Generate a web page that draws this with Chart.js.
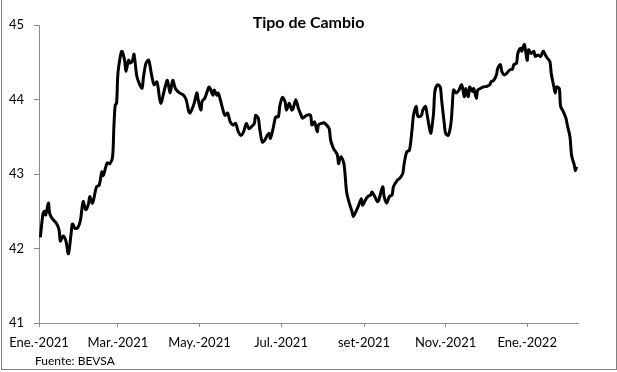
<!DOCTYPE html>
<html>
<head>
<meta charset="utf-8">
<title>Tipo de Cambio</title>
<script src="https://cdn.jsdelivr.net/npm/chart.js@4.4.1/dist/chart.umd.min.js"></script>
<style>
    html, body { margin: 0; padding: 0; background: #fff; }
    #wrap { position: relative; width: 617px; height: 372px; }
    #marco { position: absolute; left: 1px; top: 0; width: 614px; height: 369px; border: 1px solid #7f7f7f; border-top: none; pointer-events: none; }
    #fuente { position: absolute; left: 35px; top: 354px; font: 12px Lato, sans-serif; line-height: 14px; color: #000; }
</style>
</head>
<body>
<div id="wrap">
    <canvas id="grafico" width="617" height="372"></canvas>
    <div id="fuente">Fuente: BEVSA</div>
    <div id="marco"></div>
</div>
<script>
// ============ DATOS ============
// dias desde el 1 de enero de 2021
const dias = [1,3,4,5,7,8,10,13,15,16,18,20,22,24,25,27,29,31,33,35,37,38,40,43,45,47,48,51,53,55,
    56,57,58,59,61,62,64,65,67,68,70,71,73,74,77,78,80,82,84,86,88,89,91,94,96,98,100,102,105,108,
    110,112,113,116,118,119,121,122,124,127,128,130,131,133,134,136,137,139,141,143,145,147,149,151,153,155,157,159,161,162,
    164,165,167,169,170,172,173,175,177,179,180,182,184,185,187,189,190,192,194,196,197,200,203,204,206,208,209,211,213,215,
    217,218,220,221,223,224,225,226,228,229,230,232,234,235,237,239,241,242,244,246,248,249,251,253,254,257,258,260,262,264,
    265,268,270,272,273,275,277,279,280,282,283,284,286,287,289,290,292,293,295,296,298,300,301,303,304,306,308,309,310,312,
    314,316,318,319,321,322,324,325,327,328,330,332,335,337,338,340,342,343,345,346,348,350,352,354,355,357,358,360,361,362,
    363,365,366,368,370,371,373,375,377,378,380,382,383,385,386,387,389,390,392,394,395,397,398,399,400,401,402];

// tipo de cambio (pesos por dólar)
const valores = [42.15,42.47,42.50,42.45,42.61,42.47,42.40,42.34,42.25,42.10,42.17,42.11,41.93,42.20,42.33,42.27,42.28,42.38,42.63,42.52,42.60,42.70,42.61,42.83,42.85,43.03,42.98,43.15,43.14,43.23,
    43.64,43.93,43.95,44.35,44.60,44.65,44.53,44.38,44.53,44.49,44.53,44.61,44.33,44.26,44.15,44.29,44.49,44.53,44.35,44.20,44.24,44.17,43.95,44.15,44.26,44.09,44.26,44.15,44.09,44.06,
    44.00,43.84,43.82,43.95,44.09,44.00,43.86,43.98,44.02,44.17,44.15,44.06,44.13,44.06,44.09,43.97,43.90,43.79,43.82,43.70,43.66,43.68,43.57,43.52,43.57,43.68,43.61,43.64,43.68,43.79,
    43.75,43.61,43.43,43.46,43.50,43.55,43.48,43.61,43.77,43.77,43.91,44.03,43.97,43.86,43.95,43.86,43.88,44.00,43.88,43.79,43.75,43.79,43.79,43.66,43.70,43.57,43.66,43.68,43.69,43.66,
    43.61,43.46,43.35,43.32,43.26,43.14,43.21,43.23,43.14,42.96,42.76,42.61,42.50,42.43,42.50,42.58,42.67,42.58,42.65,42.70,42.72,42.76,42.70,42.63,42.65,42.83,42.70,42.61,42.70,42.72,
    42.83,42.92,42.95,43.01,43.14,43.30,43.32,43.61,43.79,43.91,43.79,43.77,43.79,43.86,43.91,43.82,43.61,43.55,43.82,44.11,44.20,44.17,44.00,43.68,43.55,43.52,43.68,43.91,44.13,44.09,
    44.13,44.20,44.04,44.15,44.04,44.17,44.11,44.15,44.02,44.13,44.15,44.17,44.18,44.20,44.24,44.26,44.33,44.42,44.47,44.38,44.33,44.36,44.40,44.41,44.47,44.49,44.62,44.69,44.65,44.71,
    44.74,44.53,44.67,44.62,44.65,44.58,44.60,44.58,44.65,44.62,44.56,44.51,44.35,44.17,44.09,44.17,44.15,43.91,43.84,43.75,43.66,43.50,43.28,43.19,43.14,43.05,43.10];

// marcas del eje X (inicio de mes, en días) y sus etiquetas
const posTicks = [0, 59, 120, 181, 243, 304, 365];
const etiquetasX = ['Ene.-2021', 'Mar.-2021', 'May.-2021', 'Jul.-2021', 'set-2021', 'Nov.-2021', 'Ene.-2022'];

const GRIS_EJE = '#8c8c8c';
const FUENTE = 'Lato, "Open Sans", sans-serif';

// ============ GRAFICO ============
const ctx = document.getElementById('grafico').getContext('2d');
new Chart(ctx, {
    type: 'line',
    data: {
        datasets: [{
            label: 'Tipo de Cambio',
            data: dias.map((d, i) => ({ x: d, y: valores[i] })),
            borderColor: '#000',
            borderWidth: 3,
            pointRadius: 0,
            tension: 0.3,
            fill: false
        }]
    },
    options: {
        responsive: false,
        animation: false,
        layout: { padding: { left: 0, right: 39, top: 0, bottom: 0 } },
        plugins: {
            legend: { display: false },
            tooltip: { enabled: false },
            title: {
                display: true,
                text: 'Tipo de Cambio',
                fullSize: false,
                color: '#000',
                font: { family: FUENTE, size: 16, weight: 'bold' },
                padding: { top: 13, bottom: -7 }
            }
        },
        scales: {
            x: {
                type: 'linear',
                min: 0,
                max: 403,
                afterBuildTicks: s => { s.ticks = posTicks.map(v => ({ value: v })); },
                afterFit: s => { s.height = 49; },
                grid: { drawOnChartArea: false, tickLength: 4, color: GRIS_EJE },
                border: { color: GRIS_EJE, width: 1 },
                ticks: {
                    autoSkip: false,
                    maxRotation: 0,
                    padding: 8,
                    color: '#000',
                    font: { family: FUENTE, size: 13 },
                    callback: v => etiquetasX[posTicks.indexOf(v)]
                }
            },
            y: {
                min: 41,
                max: 45,
                afterFit: s => { s.width = 39; },
                grid: { drawOnChartArea: false, tickLength: 5, color: GRIS_EJE },
                border: { color: GRIS_EJE, width: 1 },
                ticks: {
                    stepSize: 1,
                    padding: 10,
                    color: '#000',
                    font: { family: FUENTE, size: 13 }
                }
            }
        }
    }
});
</script>
</body>
</html>
